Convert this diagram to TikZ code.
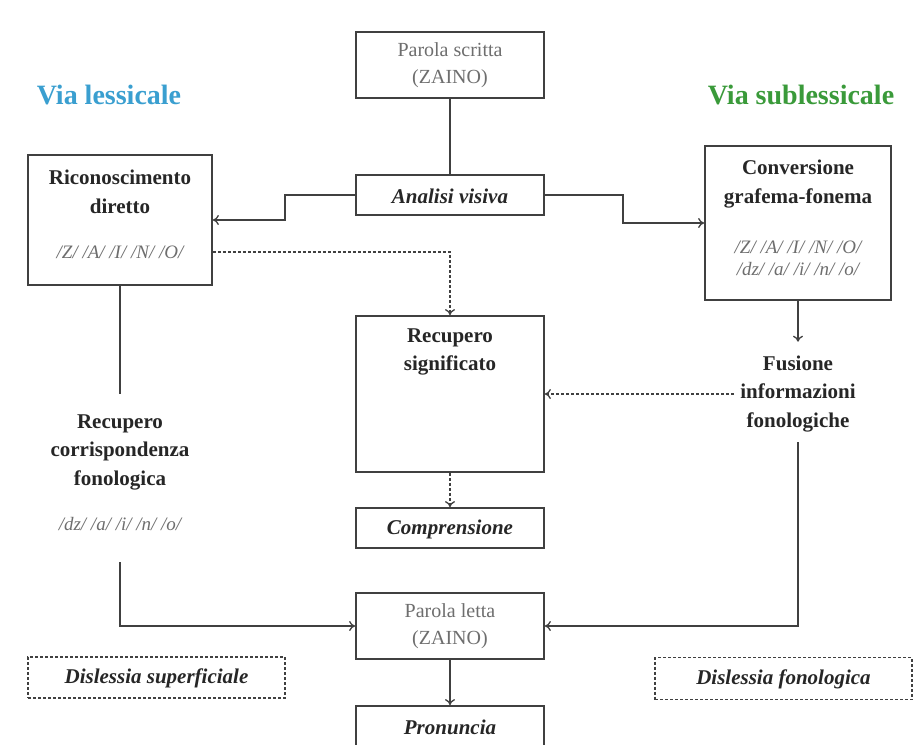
\documentclass[tikz,border=0pt]{standalone}
\usepackage{fontspec}
\setmainfont{Liberation Serif}
\usetikzlibrary{arrows.meta}
\definecolor{edge}{HTML}{404040}
\definecolor{greytext}{HTML}{6E6E6E}
\definecolor{viablue}{HTML}{3A9FD0}
\definecolor{viagreen}{HTML}{3A9A3A}
\tikzset{
  box/.style={draw=edge, line width=1.8pt, inner sep=0pt},
  dbox/.style={draw=edge, line width=1.5pt, densely dashed, inner sep=0pt},
  bl/.style={font=\fontsize{21}{28.5}\selectfont\bfseries, text=black!85, align=center, inner sep=2pt},
  bil/.style={font=\fontsize{21}{28}\selectfont\bfseries\itshape, text=black!85, align=center, inner sep=0pt},
  gl/.style={font=\fontsize{20}{27}\selectfont, text=greytext, align=center, inner sep=0pt},
  ph/.style={font=\fontsize{19}{22}\selectfont\itshape, text=greytext, align=center, inner sep=0pt},
  conn/.style={draw=edge, line width=2pt},
  arr/.style={conn, -{To[length=6pt,width=10pt,line width=1.3pt]}},
  darr/.style={arr, densely dashed, line width=1.6pt},
  via/.style={font=\fontsize{28}{30}\selectfont\bfseries, inner sep=0pt}
}
\begin{document}
\begin{tikzpicture}[x=1pt,y=-1pt]
\useasboundingbox[fill=white] (0,0) rectangle (914,745);

% titles
\node[via, text=viablue] (vl) at (109,95) {Via lessicale};
\node[via, text=viagreen] (vs) at (801,95) {Via sublessicale};

% central column
\node[box, minimum width=188pt, minimum height=66pt] (ps) at (450,65) {};
\node[gl] (pst) at (450,65) {Parola scritta\\(ZAINO)};

\node[box, minimum width=188pt, minimum height=40pt] (av) at (450,195) {};
\node[bil] (avt) at (450,196) {Analisi visiva};

\node[box, minimum width=188pt, minimum height=156pt] (rs) at (450,394) {};
\node[bl] (rst) at (450,352) {Recupero\\significato};

\node[box, minimum width=188pt, minimum height=40pt] (co) at (450,528) {};
\node[bil] (cot) at (450,529) {Comprensione};

\node[box, minimum width=188pt, minimum height=66pt] (pl) at (450,626) {};
\node[gl] (plt) at (450,626) {Parola letta\\(ZAINO)};

\node[box, minimum width=188pt, minimum height=40pt] (pr) at (450,726) {};
\node[bil] (prt) at (450,727) {Pronuncia};

% left column
\node[box, minimum width=184pt, minimum height=130pt] (rd) at (120,220) {};
\node[bl] (rdt) at (120,192) {Riconoscimento\\diretto};
\node[ph] (rdph) at (120,252) {/Z/ /A/ /I/ /N/ /O/};

\node[bl] (rc) at (120,452) {Recupero\\corrispondenza\\fonologica};
\node[ph] (rcph) at (120,524) {/dz/ /a/ /i/ /n/ /o/};

\node[dbox, minimum width=257pt, minimum height=41pt] (ds) at (156.5,677.5) {};
\node[bil] (dst) at (156.5,678) {Dislessia superficiale};

% right column
\node[box, minimum width=186pt, minimum height=154pt] (cg) at (798,223) {};
\node[bl] (cgt) at (798,184) {Conversione\\grafema-fonema};
\node[ph] (cgph) at (798,258) {/Z/ /A/ /I/ /N/ /O/\\/dz/ /a/ /i/ /n/ /o/};

\node[bl, inner xsep=6pt, inner ysep=14pt] (fu) at (798,394) {Fusione\\informazioni\\fonologiche};

\node[dbox, minimum width=257pt, minimum height=42pt] (df) at (783.5,678.5) {};
\node[bil] (dft) at (783.5,679) {Dislessia fonologica};

% helper coordinates
\coordinate (kl) at (285,195);
\coordinate (kr) at (623,195);
\coordinate (rcT) at (120,394);
\coordinate (rcB) at (120,562);
\coordinate (fuB) at (798,442);

% connectors
\draw[conn] (ps.south) -- (av.north);
\draw[arr] (av.west) -- (kl) |- (rd.east);
\draw[arr] (av.east) -- (kr) |- (cg.west);
\draw[darr] (rdph -| rd.east) -| (rs.north);
\draw[arr] (cg.south) -- (fu.north);
\draw[darr] (fu.west) -- (rs.east);
\draw[darr] (rs.south) -- (co.north);
\draw[conn] (rd.south) -- (rcT);
\draw[arr] (rcB) |- (pl.west);
\draw[arr] (fuB) |- (pl.east);
\draw[arr] (pl.south) -- (pr.north);
\end{tikzpicture}
\end{document}
